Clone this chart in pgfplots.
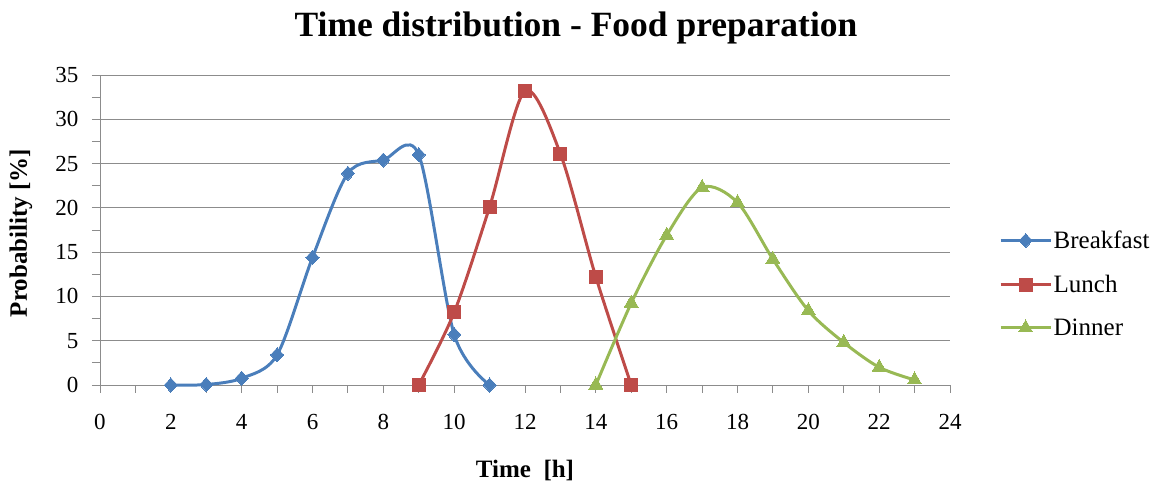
\documentclass[border=0pt]{standalone}
\usepackage{pgfplots}
\pgfplotsset{compat=1.18}
\usepackage{fontspec}
\setmainfont{Liberation Serif}
\definecolor{cB}{HTML}{4A7EBB}
\definecolor{cL}{HTML}{BE4B48}
\definecolor{cD}{HTML}{98B954}
\definecolor{gridc}{HTML}{8C8C8C}
\begin{document}
\begin{tikzpicture}
\begin{axis}[
  at={(0,0)}, anchor=origin,
  scale only axis,
  width=850bp, height=310bp,
  xmin=0, xmax=24, ymin=0, ymax=35,
  xtick={0,2,...,24}, ytick={0,5,...,35},
  minor x tick num=1, minor y tick num=1,
  tick align=outside,
  major tick length=8bp, minor tick length=8bp,
  axis x line*=bottom, axis y line*=left,
  axis line style={gridc, line width=1pt},
  every tick/.style={gridc, line width=1pt},
  ymajorgrids, grid style={gridc, line width=1pt},
  tick label style={font=\fontsize{23bp}{25bp}\selectfont},
  /pgf/number format/assume math mode=true,
  xticklabel style={yshift=-18bp},
  yticklabel style={xshift=-10bp},
  clip=false,
  legend style={draw=none, at={(1.0576,0.3258)}, anchor=west, inner sep=0pt, font=\fontsize{25bp}{27bp}\selectfont, row sep=22bp, fill=none,
    nodes={inner sep=1.5bp}},
  legend cell align=left,
  legend image code/.code={\draw[#1, mark repeat=2, mark phase=2] plot coordinates {(0bp,0bp) (25bp,0bp) (50bp,0bp)};},
]
\addplot[cB, line width=3pt, smooth, tension=0.5, mark=diamond*, mark size=7bp, mark options={fill=cB, line width=0pt, xscale=1.25}] coordinates {
(2,0) (3,0.05) (4,0.76) (5,3.4) (6,14.4) (7,23.9) (8,25.4) (9,26.0) (10,5.7) (11,0)};
\addlegendentry{Breakfast}
\addplot[cL, line width=3pt, smooth, tension=0.5, mark=square*, mark size=6.5bp, mark options={fill=cL, line width=0pt}] coordinates {
(9,0) (10,8.2) (11,20.1) (12,33.2) (13,26.1) (14,12.2) (15,0)};
\addlegendentry{Lunch}
\addplot[cD, line width=3pt, smooth, tension=0.5, mark=triangle*, mark size=8bp, mark options={fill=cD, line width=0pt}] coordinates {
(14,0) (15,9.25) (16,16.9) (17,22.3) (18,20.6) (19,14.2) (20,8.4) (21,4.8) (22,2.0) (23,0.57)};
\addlegendentry{Dinner}
\end{axis}
\node[font=\bfseries\fontsize{35.5bp}{38bp}\selectfont] at (476bp,357bp) {Time distribution - Food preparation};
\node[font=\bfseries\fontsize{25bp}{28bp}\selectfont] at (425bp,-85bp) {Time \ [h]};
\node[font=\bfseries\fontsize{25bp}{28bp}\selectfont, rotate=90] at (-79bp,152bp) {Probability [\%]};
\pgfresetboundingbox
\path (-100bp,-102bp) rectangle (1064bp,385bp);
\end{tikzpicture}
\end{document}
